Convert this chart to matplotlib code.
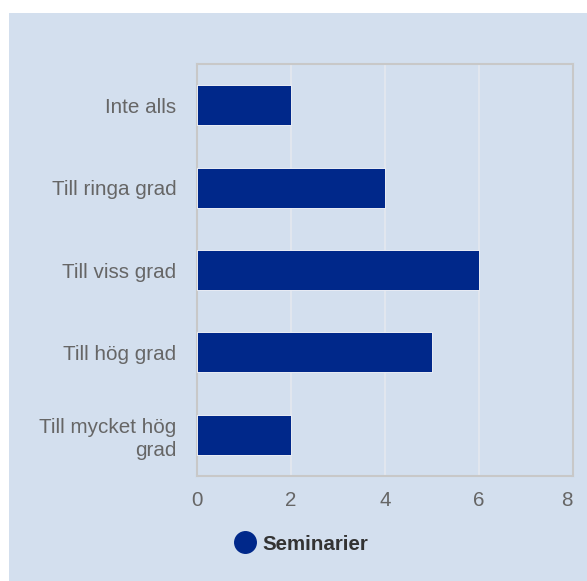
import matplotlib.pyplot as plt
from matplotlib.lines import Line2D
from matplotlib.patches import Rectangle

# data
categories = ['Inte alls', 'Till ringa grad', 'Till viss grad', 'Till hög grad', 'Till mycket hög\ngrad']
values = [2, 4, 6, 5, 2]
series_name = 'Seminarier'
xticks = [0, 2, 4, 6, 8]

W, H = 587, 581
bg = '#d3dfee'
barcol = '#00288a'

plt.rcParams['font.family'] = ['Liberation Sans', 'DejaVu Sans']

fig = plt.figure(figsize=(W / 100, H / 100), dpi=100)
fig.patch.set_facecolor('white')
# light blue panel, leaves a white strip top and left
fig.patches.append(Rectangle((9 / W, 0), 1 - 9 / W, 1 - 13 / H, transform=fig.transFigure,
                             facecolor=bg, edgecolor='none', zorder=-5))

ax = fig.add_axes([197 / W, 1 - 476 / H, (573 - 197) / W, (476 - 64) / H])
ax.set_facecolor(bg)

pos = list(range(len(categories)))
ax.barh(pos, values, height=0.485, color=barcol, edgecolor='white', linewidth=0.6, zorder=3)
ax.set_yticks(pos)
ax.set_yticklabels(categories, linespacing=1.25)
ax.set_ylim(len(categories) - 0.5, -0.5)
ax.set_xlim(0, 8)
ax.set_xticks(xticks)

ax.xaxis.grid(True, color='#e4e8ee', linewidth=1.2, zorder=1)
ax.set_axisbelow(True)
for s in ax.spines.values():
    s.set_color('#c8c8c8')
    s.set_linewidth(1.5)

ax.tick_params(axis='both', length=0, labelcolor='#666666', labelsize=14.9)
ax.tick_params(axis='x', pad=11)
ax.tick_params(axis='y', pad=15)
# last x label is pulled inside the panel like in the original
ax.get_xticklabels()[-1].set_ha('right')

h = Line2D([], [], marker='o', linestyle='', color=barcol, markersize=15.5)
fig.legend([h], [series_name], loc='center left', bbox_to_anchor=(224 / W, 1 - 544 / H),
           frameon=False, borderpad=0, handlelength=1.0, handletextpad=0.35,
           prop={'weight': 'bold', 'size': 14.8}, labelcolor='#333333')

fig.savefig('out.png', dpi=100)
